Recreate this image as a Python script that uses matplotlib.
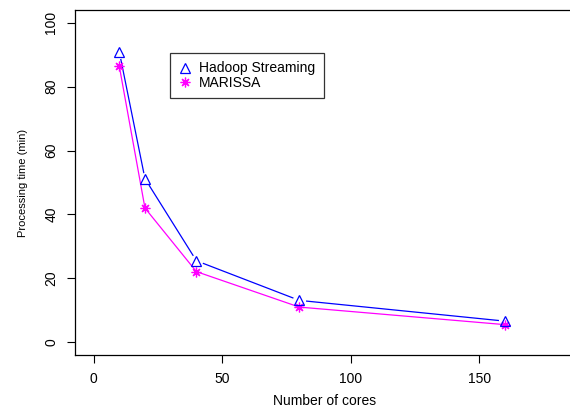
import matplotlib.pyplot as plt
from matplotlib.lines import Line2D

plt.rcParams['font.family'] = ['Liberation Sans', 'DejaVu Sans']

cores = [10, 20, 40, 80, 160]
hadoop = [91, 51.2, 25.5, 13.1, 6.6]
marissa = [86.5, 42, 22.1, 11, 5.5]

blue = '#0000ff'
magenta = '#ff00ff'

fig = plt.figure(figsize=(5.7, 4.09), dpi=100)
ax = fig.add_axes([75/570, 54/409, 500/570, 345/409])

# hadoop drawn R type="b" style: line with gaps round the points
ax.plot(cores, hadoop, color=blue, lw=0.9, zorder=2)
ax.plot(cores, hadoop, ls='none', marker='o', ms=9.5, mfc='white', mec='none', zorder=3)
ax.plot(cores, marissa, color=magenta, lw=0.9, marker=(8, 2, 0), ms=7, mew=0.9, zorder=4)
ax.plot(cores, hadoop, ls='none', marker='^', ms=6.5, mfc='none', mec=blue, mew=0.9, zorder=5)

ax.set_xlim(-7.2, 187.2)
ax.set_ylim(-4, 104)
ax.set_xticks([0, 50, 100, 150])
ax.set_yticks([0, 20, 40, 60, 80, 100])
ax.tick_params(direction='out', length=6, width=0.8, labelsize=10, pad=6)
for lab in ax.get_yticklabels():
    lab.set_rotation(90)
    lab.set_va('center')
for s in ax.spines.values():
    s.set_linewidth(0.9)

ax.set_xlabel('Number of cores', fontsize=10, labelpad=6)
ax.set_ylabel('Processing time (min)', fontsize=8, labelpad=12)

handles = [Line2D([], [], ls='none', marker='^', ms=6.5, mfc='none', mec=blue, mew=0.9),
           Line2D([], [], ls='none', marker=(8, 2, 0), ms=7, mec=magenta, color=magenta, mew=0.9)]
leg = ax.legend(handles, ['Hadoop Streaming', 'MARISSA'], loc='upper left',
                bbox_to_anchor=(0.19, 0.875), fontsize=10, frameon=True, fancybox=False,
                edgecolor='black', handlelength=1.0, handletextpad=0.5, borderpad=0.6,
                labelspacing=0.05, borderaxespad=0)
leg.get_frame().set_linewidth(0.9)

fig.savefig('out.png', dpi=100)
